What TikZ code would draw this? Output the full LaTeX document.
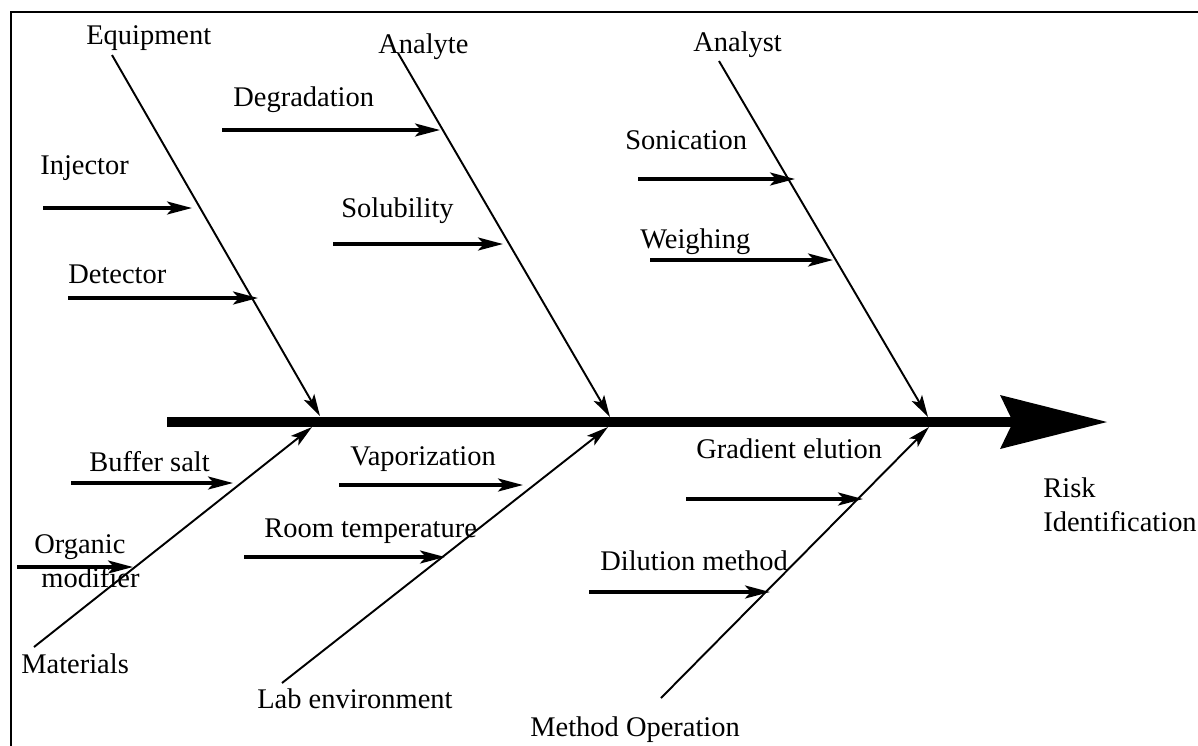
\documentclass[tikz,border=0pt]{standalone}
\usepackage{fontspec}
\setmainfont{Liberation Serif}
\usetikzlibrary{arrows.meta}

\begin{document}
\begin{tikzpicture}[x=0.02cm,y=-0.02cm]
\tikzset{lbl/.style={anchor=base west,inner sep=0pt,font=\fontsize{16.2}{19}\selectfont},
  bone/.style={line width=1.1pt,-{Stealth[length=0.44cm,width=0.24cm,inset=0.1cm]}},
  sub/.style={line width=1.9pt,-{Stealth[length=0.5cm,width=0.26cm,inset=0.12cm]}},
  spine/.style={line width=0.2cm,-{Stealth[length=2.14cm,width=1.08cm,inset=0.26cm,line width=0pt]}}}

\useasboundingbox (0,0) rectangle (1198,745);
\draw[line width=1.3pt] (11,12) rectangle (1215,765);

% main line
\coordinate (tail) at (167,422);
\coordinate (head) at (1107,422);
\draw[spine] (tail) -- (head);
\node[lbl,align=left] (risk) at (1043,531) {Risk\\Identification};

% upper bones
\node[lbl] (equip) at (86,44) {Equipment};
\node[lbl] (analyte) at (378,53) {Analyte};
\node[lbl] (analyst) at (693,51) {Analyst};
\coordinate (e0) at (112,55);  \coordinate (e1) at (320,416);
\coordinate (a0) at (398,53);  \coordinate (a1) at (610,417);
\coordinate (s0) at (719,61);  \coordinate (s1) at (928,417);
\draw[bone] (e0) -- (e1);
\draw[bone] (a0) -- (a1);
\draw[bone] (s0) -- (s1);

% lower bones
\node[lbl] (mat) at (21,673) {Materials};
\node[lbl] (lab) at (257,708) {Lab environment};
\node[lbl] (meth) at (530,736) {Method Operation};
\coordinate (m0) at (34,647);  \coordinate (m1) at (312,427);
\coordinate (l0) at (282,683); \coordinate (l1) at (608,427);
\coordinate (o0) at (661,698); \coordinate (o1) at (929,427);
\draw[bone] (m0) -- (m1);
\draw[bone] (l0) -- (l1);
\draw[bone] (o0) -- (o1);

% causes, top
\node[lbl] (inj) at (40,174) {Injector};
\node[lbl] (det) at (68,283) {Detector};
\node[lbl] (degr) at (233,106) {Degradation};
\node[lbl] (solu) at (341,217) {Solubility};
\node[lbl] (soni) at (625,149) {Sonication};
\node[lbl] (weigh) at (640,248) {Weighing};
\coordinate (inj0) at (43,208);    \coordinate (inj1) at (192,208);
\coordinate (det0) at (68,298);    \coordinate (det1) at (258,298);
\coordinate (degr0) at (222,130);  \coordinate (degr1) at (440,130);
\coordinate (solu0) at (333,244);  \coordinate (solu1) at (503,244);
\coordinate (soni0) at (638,179);  \coordinate (soni1) at (795,179);
\coordinate (weigh0) at (650,260); \coordinate (weigh1) at (833,260);
\draw[sub] (inj0) -- (inj1);
\draw[sub] (det0) -- (det1);
\draw[sub] (degr0) -- (degr1);
\draw[sub] (solu0) -- (solu1);
\draw[sub] (soni0) -- (soni1);
\draw[sub] (weigh0) -- (weigh1);

% causes, bottom
\node[lbl] (buf) at (89,471) {Buffer salt};
\node[lbl,align=left] (org) at (34,587) {Organic\\\hspace*{0.25em}modifier};
\node[lbl] (vap) at (350,465) {Vaporization};
\node[lbl] (room) at (264,537) {Room temperature};
\node[lbl] (grad) at (696,458) {Gradient elution};
\node[lbl] (dil) at (600,570) {Dilution method};
\coordinate (buf0) at (71,483);   \coordinate (buf1) at (233,483);
\coordinate (org0) at (17,567);   \coordinate (org1) at (133,567);
\coordinate (vap0) at (339,485);  \coordinate (vap1) at (523,485);
\coordinate (room0) at (244,557); \coordinate (room1) at (445,557);
\coordinate (grad0) at (686,499); \coordinate (grad1) at (863,499);
\coordinate (dil0) at (589,592);  \coordinate (dil1) at (770,592);
\draw[sub] (buf0) -- (buf1);
\draw[sub] (org0) -- (org1);
\draw[sub] (vap0) -- (vap1);
\draw[sub] (room0) -- (room1);
\draw[sub] (grad0) -- (grad1);
\draw[sub] (dil0) -- (dil1);
\end{tikzpicture}
\end{document}
